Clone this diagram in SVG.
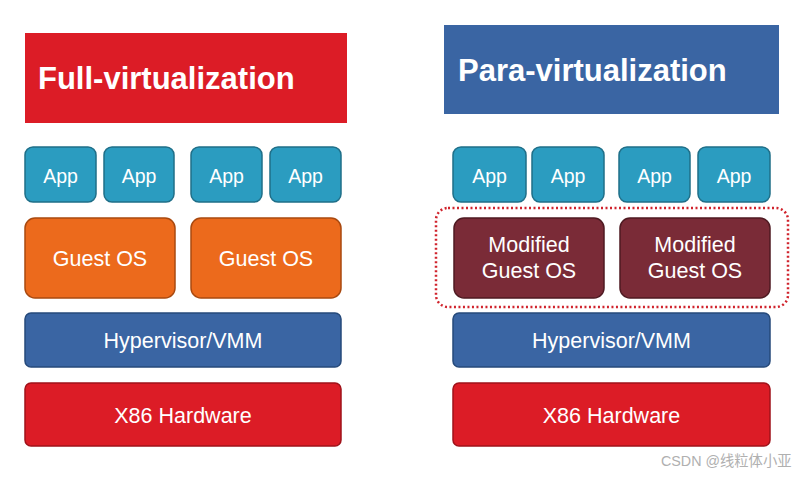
<svg xmlns="http://www.w3.org/2000/svg" width="804" height="477" viewBox="0 0 804 477">
<style>
text{font-family:"Liberation Sans",Arial,sans-serif;fill:#fff;text-anchor:middle}
.title{font-weight:bold;font-size:31px;text-anchor:start}
.app rect{fill:#2b9cc0;stroke:#1f6f88;stroke-width:1.5}
.app text{font-size:19.5px}
.gos rect{fill:#ec6a1c;stroke:#a9490f;stroke-width:1.5}
.mos rect{fill:#7a2b37;stroke:#4f1a22;stroke-width:1.5}
.gos text,.mos text{font-size:21.5px}
.hyp rect{fill:#3a65a3;stroke:#264a7b;stroke-width:1.5}
.hw rect{fill:#dc1c26;stroke:#a0121a;stroke-width:1.5}
.hyp text,.hw text{font-size:21.5px}
.wm{font-family:"Liberation Sans","Noto Sans CJK SC",sans-serif;fill:#b0b0b0;font-size:14.3px;text-anchor:start}
</style>
<rect width="804" height="477" fill="#fff"/>
<g id="full-title"><rect x="25" y="33" width="322" height="90" fill="#dc1c26"/><text class="title" x="38" y="89">Full-virtualization</text></g>
<g id="para-title"><rect x="444" y="25" width="335" height="89" fill="#3a65a3"/><text class="title" x="458" y="81">Para-virtualization</text></g>

<g id="fapp1" class="app"><rect x="25" y="147" width="71" height="55" rx="8"/><text x="60.5" y="183">App</text></g>
<g id="fapp2" class="app"><rect x="104" y="147" width="70" height="55" rx="8"/><text x="139" y="183">App</text></g>
<g id="fapp3" class="app"><rect x="191" y="147" width="71" height="55" rx="8"/><text x="226.5" y="183">App</text></g>
<g id="fapp4" class="app"><rect x="270" y="147" width="71" height="55" rx="8"/><text x="305.5" y="183">App</text></g>

<g id="fgos1" class="gos"><rect x="25" y="218" width="150" height="80" rx="10"/><text x="100" y="266">Guest OS</text></g>
<g id="fgos2" class="gos"><rect x="191" y="218" width="150" height="80" rx="10"/><text x="266" y="266">Guest OS</text></g>
<g id="fhyp" class="hyp"><rect x="25" y="313" width="316" height="54" rx="6"/><text x="183" y="348">Hypervisor/VMM</text></g>
<g id="fhw" class="hw"><rect x="25" y="383" width="316" height="63" rx="6"/><text x="183" y="423">X86 Hardware</text></g>

<g id="papp1" class="app"><rect x="453" y="147" width="73" height="55" rx="8"/><text x="489.5" y="183">App</text></g>
<g id="papp2" class="app"><rect x="532" y="147" width="72" height="55" rx="8"/><text x="568" y="183">App</text></g>
<g id="papp3" class="app"><rect x="619" y="147" width="71" height="55" rx="8"/><text x="654.5" y="183">App</text></g>
<g id="papp4" class="app"><rect x="698" y="147" width="72" height="55" rx="8"/><text x="734" y="183">App</text></g>

<g id="modified-group"><rect x="436" y="208" width="352" height="99" rx="12" fill="none" stroke="#d0232c" stroke-width="2.5" stroke-dasharray="2 2.5"/></g>
<g id="pmos1" class="mos"><rect x="454" y="218" width="150" height="80" rx="10"/><text x="529" y="252">Modified</text><text x="529" y="278">Guest OS</text></g>
<g id="pmos2" class="mos"><rect x="620" y="218" width="150" height="80" rx="10"/><text x="695" y="252">Modified</text><text x="695" y="278">Guest OS</text></g>
<g id="phyp" class="hyp"><rect x="453" y="313" width="317" height="54" rx="6"/><text x="611.5" y="348">Hypervisor/VMM</text></g>
<g id="phw" class="hw"><rect x="453" y="383" width="317" height="63" rx="6"/><text x="611.5" y="423">X86 Hardware</text></g>

<g id="connectors"></g>
<text class="wm" x="661" y="466">CSDN @线粒体小亚</text>
</svg>
